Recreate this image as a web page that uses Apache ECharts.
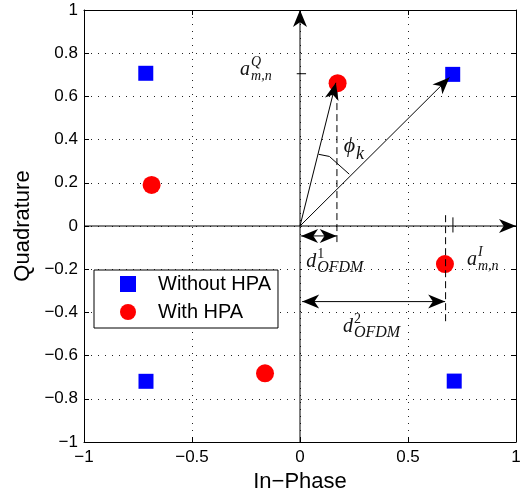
<html>
<head>
<meta charset="utf-8">
<script src="https://cdn.jsdelivr.net/npm/echarts@6/dist/echarts.min.js"></script>
</head>
<body style="margin:0">
<div id="main" style="width:525px;height:491px;"></div>
<script type="text/javascript">
// constellation points
var withoutHPA = [[-0.714, 0.707], [0.707, 0.702], [-0.713, -0.719], [0.714, -0.718]];
var withHPA = [[0.174, 0.661], [-0.687, 0.19], [-0.162, -0.682], [0.671, -0.176]];

// annotation arrows: x1, y1, x2, y2, head at start, head at end
var arrowsData = [
    [-1, 0, 1, 0, 0, 1],
    [0, -1, 0, 1, 0, 1],
    [0, 0, 0.166, 0.663, 0, 1],
    [0, 0, 0.692, 0.688, 0, 1],
    [0.005, -0.046, 0.17, -0.046, 1, 1],
    [0.01, -0.35, 0.672, -0.35, 1, 1]
];
// dashed guides and small solid marks
var dashData = [[0.171, 0.62, 0.171, -0.09], [0.674, 0.05, 0.674, -0.45]];
var markData = [[0.708, 0.04, 0.708, -0.03], [-0.015, 0.705, 0.028, 0.705]];
var phiArc = [[0.086, 0.332], [0.136, 0.322], [0.228, 0.24]];

// math labels (anchor = right edge of the base letter)
var mathLabels = [
    {x: -0.231, y: 0.722, base: 'a', sup: 'Q', sub: 'm,n'},
    {x: 0.819, y: -0.157, base: 'a', sup: 'I', sub: 'm,n'},
    {x: 0.075, y: -0.167, base: 'd', sup: '1', sub: 'OFDM'},
    {x: 0.245, y: -0.468, base: 'd', sup: '2', sub: 'OFDM'},
    {x: 0.255, y: 0.37, base: 'ϕ', sup: '', sub: 'k'}
];

var xTicks = {min: -1, max: 1, step: 0.5};
var yTicks = {min: -1, max: 1, step: 0.2};

function fmt(v) {
    var s = String(Math.round(v * 10) / 10);
    return s.replace('-', '\u2212');
}

function head(tip, from, len, half) {
    var dx = tip[0] - from[0], dy = tip[1] - from[1];
    var d = Math.sqrt(dx * dx + dy * dy) || 1;
    dx /= d; dy /= d;
    var nx = -dy, ny = dx;
    var bx = tip[0] - dx * len, by = tip[1] - dy * len;
    var mx = tip[0] - dx * len * 0.72, my = tip[1] - dy * len * 0.72;
    return {
        type: 'polygon',
        shape: {points: [tip, [bx + nx * half, by + ny * half], [mx, my], [bx - nx * half, by - ny * half]]},
        style: {fill: '#000'}
    };
}

var mathFont = "'Liberation Serif', 'DejaVu Serif', serif";
var sansFont = "'Liberation Sans', Arial, sans-serif";

var myChart = echarts.init(document.getElementById('main'));

var axisCommon = {
    axisLine: {show: true, onZero: false, lineStyle: {color: '#000', width: 1}},
    axisTick: {show: true, inside: true, length: 5, lineStyle: {color: '#000'}},
    splitLine: {show: false}
};

option = {
    animation: false,
    grid: {left: 84, right: 9, top: 10, bottom: 49, outerBoundsMode: 'none', containLabel: false},
    legend: {
        orient: 'vertical',
        left: 94, top: 270,
        width: 190,
        data: ['Without HPA', 'With HPA'],
        backgroundColor: '#fff',
        borderColor: '#000', borderWidth: 1,
        padding: [4, 7, 6, 26],
        itemWidth: 16, itemHeight: 16, itemGap: 8,
        textStyle: {fontFamily: sansFont, fontSize: 20, color: '#000', lineHeight: 20, padding: [0, 0, 0, 17]}
    },
    xAxis: [
        echarts.util.merge({
            type: 'value', min: xTicks.min, max: xTicks.max, interval: xTicks.step,
            name: 'In\u2212Phase', nameLocation: 'middle', nameGap: 27,
            nameTextStyle: {fontFamily: sansFont, fontSize: 22, color: '#000'},
            axisLabel: {formatter: fmt, fontFamily: sansFont, fontSize: 17, color: '#000', margin: 7, showMinLabel: true, showMaxLabel: true},
            splitLine: {show: true, lineStyle: {color: '#222', width: 1, type: [1, 6]}}
        }, axisCommon),
        echarts.util.merge({
            type: 'value', position: 'top', min: xTicks.min, max: xTicks.max, interval: xTicks.step,
            axisLabel: {show: false}
        }, axisCommon)
    ],
    yAxis: [
        echarts.util.merge({
            type: 'value', min: yTicks.min, max: yTicks.max, interval: yTicks.step,
            name: 'Quadrature', nameLocation: 'middle', nameGap: 49,
            nameTextStyle: {fontFamily: sansFont, fontSize: 22, color: '#000'},
            axisLabel: {formatter: fmt, fontFamily: sansFont, fontSize: 17, color: '#000', margin: 6, showMinLabel: true, showMaxLabel: true},
            splitLine: {show: true, lineStyle: {color: '#222', width: 1, type: [1, 6]}}
        }, axisCommon),
        echarts.util.merge({
            type: 'value', position: 'right', min: yTicks.min, max: yTicks.max, interval: yTicks.step,
            axisLabel: {show: false}
        }, axisCommon)
    ],
    series: [
        {
            name: 'Without HPA', type: 'scatter', symbol: 'rect', symbolSize: 15,
            itemStyle: {color: '#0000ff', opacity: 1}, data: withoutHPA, z: 3
        },
        {
            name: 'With HPA', type: 'scatter', symbol: 'circle', symbolSize: 18,
            itemStyle: {color: '#ff0000', opacity: 1}, data: withHPA, z: 3
        },
        {
            type: 'custom', silent: true, clip: false, z: 4,
            data: arrowsData,
            renderItem: function (params, api) {
                var p1 = api.coord([api.value(0), api.value(1)]);
                var p2 = api.coord([api.value(2), api.value(3)]);
                var kids = [{type: 'line', shape: {x1: p1[0], y1: p1[1], x2: p2[0], y2: p2[1]}, style: {stroke: '#000', lineWidth: 1}}];
                if (api.value(4)) kids.push(head(p1, p2, 17, 7));
                if (api.value(5)) kids.push(head(p2, p1, 17, 7));
                return {type: 'group', children: kids};
            }
        },
        {
            type: 'custom', silent: true, clip: false, z: 4,
            data: dashData,
            renderItem: function (params, api) {
                var p1 = api.coord([api.value(0), api.value(1)]);
                var p2 = api.coord([api.value(2), api.value(3)]);
                return {type: 'line', shape: {x1: p1[0], y1: p1[1], x2: p2[0], y2: p2[1]}, style: {stroke: '#000', lineWidth: 1, lineDash: [7, 4]}};
            }
        },
        {
            type: 'custom', silent: true, clip: false, z: 4,
            data: markData,
            renderItem: function (params, api) {
                var p1 = api.coord([api.value(0), api.value(1)]);
                var p2 = api.coord([api.value(2), api.value(3)]);
                return {type: 'line', shape: {x1: p1[0], y1: p1[1], x2: p2[0], y2: p2[1]}, style: {stroke: '#000', lineWidth: 1}};
            }
        },
        {
            type: 'line', data: phiArc, symbol: 'none', silent: true, z: 4,
            lineStyle: {color: '#000', width: 1}
        },
        {
            type: 'custom', silent: true, clip: false, z: 5,
            data: mathLabels.map(function (m) { return [m.x, m.y]; }),
            renderItem: function (params, api) {
                var m = mathLabels[params.dataIndex];
                var p = api.coord([api.value(0), api.value(1)]);
                var isPhi = m.base === 'ϕ';
                var kids = [{
                    type: 'text', x: p[0], y: p[1],
                    style: {text: m.base, font: 'italic ' + (isPhi ? 22 : 20) + 'px ' + mathFont, fill: '#111', align: 'right', verticalAlign: 'middle'}
                }];
                if (m.sup) {
                    var supItalic = /[A-Z]/.test(m.sup) ? 'italic ' : '';
                    kids.push({
                        type: 'text', x: p[0] + 1, y: p[1] - 8,
                        style: {text: m.sup, font: supItalic + '14px ' + mathFont, fill: '#111', align: 'left', verticalAlign: 'middle'}
                    });
                }
                var subSize = m.sub === 'OFDM' ? 16 : (isPhi ? 18 : 14);
                kids.push({
                    type: 'text', x: p[0] + 1, y: p[1] + (isPhi ? 8 : 6),
                    style: {text: m.sub, font: 'italic ' + subSize + 'px ' + mathFont, fill: '#111', align: 'left', verticalAlign: 'middle'}
                });
                return {type: 'group', children: kids};
            }
        }
    ]
};
myChart.setOption(option);
</script>
</body>
</html>
